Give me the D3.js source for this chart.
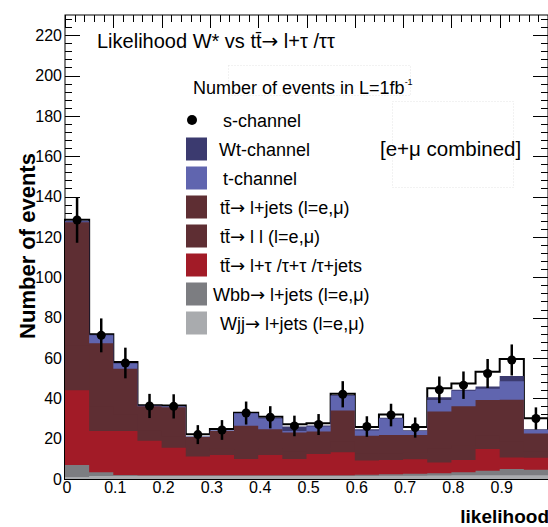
<!DOCTYPE html>
<html>
<head>
<meta charset="utf-8">
<script src="https://cdn.jsdelivr.net/npm/d3@7/dist/d3.min.js"></script>
<style>
  body { margin: 0; background: #fff; }
  svg text { font-family: "Liberation Sans", Arial, Helvetica, sans-serif; fill: #000; }
</style>
</head>
<body>
<div id="chart"></div>
<script>
// bin edges of the likelihood histogram (20 bins)
var binEdges = [0, 0.05, 0.1, 0.15, 0.2, 0.25, 0.3, 0.35, 0.4, 0.45, 0.5,
                0.55, 0.6, 0.65, 0.7, 0.75, 0.8, 0.85, 0.9, 0.95, 1.0];

// stacked backgrounds, bottom first (events per bin)
var wjj    = [1.0, 1.5, 1.5, 1.5, 1.5, 1.5, 1.5, 1.5, 1.5, 1.5, 1.5, 1.5, 1.5, 1.6, 1.6, 1.7, 1.8, 1.8, 1.8, 1.8];
var wbb    = [6.0, 1.8, 0.5, 0.4, 0.4, 0.3, 0.3, 0.3, 0.3, 0.3, 0.4, 0.4, 0.6, 0.8, 1.0, 1.2, 1.5, 2.3, 3.2, 2.8];
var ttTau  = [37.0, 20.5, 21.8, 17.0, 13.6, 9.3, 10.1, 8.1, 10.1, 8.1, 10.5, 11.3, 7.1, 7.0, 7.2, 5.3, 6.1, 10.8, 5.7, 5.9];
var ttLL   = [22.0, 12.0, 8.0, 5.0, 5.5, 2.8, 3.2, 4.5, 3.5, 3.6, 3.0, 5.5, 3.3, 3.4, 3.3, 6.8, 7.2, 6.6, 7.8, 3.3];
var ttLJ   = [61.3, 31.5, 22.8, 12.1, 14.6, 6.9, 8.7, 12.0, 9.2, 9.5, 8.1, 15.2, 9.0, 9.0, 8.7, 18.4, 19.4, 17.7, 20.8, 8.8];
var tChan  = [0.3, 4.0, 2.6, 0.2, 0.2, 0.2, 0.2, 6.1, 5.4, 0.8, 2.5, 7.4, 2.5, 8.2, 2.0, 5.8, 7.7, 5.5, 9.2, 1.7];
var wtChan = [0.4, 0.2, 0.3, 0.2, 0.2, 0.1, 0.1, 0.2, 0.4, 2.2, 0.5, 0.3, 0.6, 0.3, 0.4, 1.3, 0.5, 1.1, 2.5, 0.3];
var sChan  = [0.5, 0.3, 0.5, 0.2, 0.4, 1.1, 0.7, 0.2, 0.5, 1.1, 1.1, 0.6, 1.2, 1.7, 1.6, 4.5, 3.1, 7.4, 8.5, 5.5];

// pseudo data points and their errors
var points = [128.4, 71.2, 57.5, 36.2, 36.0, 22.0, 24.3, 32.7, 30.6, 26.3, 27.0, 42.0, 26.0, 31.7, 25.5, 44.2, 46.5, 52.3, 59.0, 30.0];
var errors = [11.3, 8.4, 7.6, 6.0, 6.0, 4.7, 4.9, 5.7, 5.5, 5.1, 5.2, 6.5, 5.1, 5.6, 5.0, 6.6, 6.8, 7.2, 7.7, 5.5];

var yMajor = [0, 20, 40, 60, 80, 100, 120, 140, 160, 180, 200, 220];
var xMajor = [0, 0.1, 0.2, 0.3, 0.4, 0.5, 0.6, 0.7, 0.8, 0.9];

var keys = ["wjj", "wbb", "ttTau", "ttLL", "ttLJ", "tChan", "wtChan", "sChan"];
var colors = {
  wjj: "#a9abae", wbb: "#7c7d81", ttTau: "#a21b27", ttLL: "#5e2e33",
  ttLJ: "#5e2e33", tChan: "#6065af", wtChan: "#3b3a6f", sChan: "#ffffff"
};

var width = 548, height = 527;
var svg = d3.select("#chart").append("svg")
  .attr("width", width).attr("height", height);

var x = d3.scaleLinear().domain([0, 1]).range([65, 548]);
var y = d3.scaleLinear().domain([0, 230]).range([479, 15]);

// --- frame and ticks (drawn first, histograms cover them like in ROOT)
var frame = svg.append("g");
frame.append("rect")
  .attr("x", x(0)).attr("y", y(230))
  .attr("width", x(1) - x(0)).attr("height", y(0) - y(230))
  .attr("fill", "none").attr("stroke", "#000").attr("stroke-width", 1);

var yMinor = d3.range(0, 230.1, 4);
var xMinor = d3.range(0, 1.0001, 0.02);

frame.selectAll(".ytick").data(yMinor).enter().append("line")
  .attr("x1", x(0)).attr("x2", function(d) { return x(0) + (d % 20 === 0 ? 15 : 7); })
  .attr("y1", function(d) { return Math.round(y(d)) + 0.5; })
  .attr("y2", function(d) { return Math.round(y(d)) + 0.5; })
  .attr("stroke", "#000");
frame.selectAll(".ytickr").data(yMinor).enter().append("line")
  .attr("x1", x(1)).attr("x2", function(d) { return x(1) - (d % 20 === 0 ? 15 : 7); })
  .attr("y1", function(d) { return Math.round(y(d)) + 0.5; })
  .attr("y2", function(d) { return Math.round(y(d)) + 0.5; })
  .attr("stroke", "#000");

function isMajorX(d) { return Math.abs(d * 10 - Math.round(d * 10)) < 1e-6; }
frame.selectAll(".xtickt").data(xMinor).enter().append("line")
  .attr("x1", function(d) { return Math.round(x(d)) + 0.5; })
  .attr("x2", function(d) { return Math.round(x(d)) + 0.5; })
  .attr("y1", y(230)).attr("y2", function(d) { return y(230) + (isMajorX(d) ? 13 : 7); })
  .attr("stroke", "#000");
frame.selectAll(".xtickb").data(xMinor).enter().append("line")
  .attr("x1", function(d) { return Math.round(x(d)) + 0.5; })
  .attr("x2", function(d) { return Math.round(x(d)) + 0.5; })
  .attr("y1", y(0)).attr("y2", function(d) { return y(0) - (isMajorX(d) ? 13 : 7); })
  .attr("stroke", "#000");

// tick labels
svg.selectAll(".ylab").data(yMajor).enter().append("text")
  .attr("x", 62).attr("y", function(d) { return y(d); })
  .attr("dy", "0.36em").attr("text-anchor", "end")
  .style("font-size", "16px")
  .text(function(d) { return d; });

svg.selectAll(".xlab").data(xMajor).enter().append("text")
  .attr("x", function(d) { return x(d) + 2; })
  .attr("y", 493).attr("text-anchor", "middle")
  .style("font-size", "16px")
  .text(function(d) { return d === 0 ? "0" : d.toFixed(1); });

// axis titles
svg.append("text")
  .attr("transform", "translate(35,246) rotate(-90)")
  .attr("text-anchor", "middle")
  .style("font-size", "22px").style("font-weight", "bold")
  .text("Number of events");
svg.append("text")
  .attr("x", 549).attr("y", 523).attr("text-anchor", "end")
  .style("font-size", "19px").style("font-weight", "bold")
  .text("likelihood");

// --- stacked histogram
var rows = binEdges.slice(0, -1).map(function(lo, i) {
  return { lo: lo, wjj: wjj[i], wbb: wbb[i], ttTau: ttTau[i], ttLL: ttLL[i],
           ttLJ: ttLJ[i], tChan: tChan[i], wtChan: wtChan[i], sChan: sChan[i] };
});
var series = d3.stack().keys(keys)(rows);

function stepPoints(layer) {
  var pts = layer.map(function(d, i) { return { x: binEdges[i], top: d[1] }; });
  pts.push({ x: binEdges[binEdges.length - 1], top: layer[layer.length - 1][1] });
  return pts;
}

var area = d3.area()
  .x(function(d) { return x(d.x); })
  .y0(y(0))
  .y1(function(d) { return y(d.top); })
  .curve(d3.curveStepAfter);

// draw from the top component down, each one filled to zero
series.slice().reverse().forEach(function(layer) {
  var p = svg.append("path")
    .datum(stepPoints(layer))
    .attr("d", area)
    .attr("fill", colors[layer.key]);
  if (layer.key === "sChan") {
    p.attr("stroke", "#000").attr("stroke-width", 2);
  }
});

// --- pseudo data with error bars
var pts = svg.append("g");
points.forEach(function(v, i) {
  var cx = x((binEdges[i] + binEdges[i + 1]) / 2);
  pts.append("line")
    .attr("x1", cx).attr("x2", cx)
    .attr("y1", y(v - errors[i])).attr("y2", y(v + errors[i]))
    .attr("stroke", "#000").attr("stroke-width", 2.5);
  pts.append("circle")
    .attr("cx", cx).attr("cy", y(v)).attr("r", 4.5)
    .attr("fill", "#000");
});

// --- faint text box borders
var boxes = [
  { x: 228, y: 65, w: 182, h: 30 },
  { x: 392, y: 101, w: 121, h: 86 }
];
svg.selectAll(".pave").data(boxes).enter().append("rect")
  .attr("x", function(d) { return d.x + 0.5; }).attr("y", function(d) { return d.y + 0.5; })
  .attr("width", function(d) { return d.w; }).attr("height", function(d) { return d.h; })
  .attr("fill", "none").attr("stroke", "#e4e4e4").attr("stroke-dasharray", "1,2");

// text with the arrow taken from DejaVu, which draws a longer arrow
function arrowText(sel, str) {
  var parts = str.split("\u2192");
  parts.forEach(function(p, i) {
    if (i > 0) {
      sel.append("tspan").style("font-family", "'DejaVu Sans'").text("\u2192");
    }
    sel.append("tspan").text(p);
  });
}

// --- title and legend
var title = svg.append("text")
  .attr("x", 97).attr("y", 48)
  .style("font-size", "20px");
arrowText(title, "Likelihood W* vs tt\u0304\u2192 l+\u03c4 /\u03c4\u03c4");

var legTitle = svg.append("text")
  .attr("x", 193).attr("y", 94)
  .style("font-size", "18px")
  .text("Number of events in L=1fb");
legTitle.append("tspan").attr("dy", -9).style("font-size", "9px").text("-1");

svg.append("text")
  .attr("x", 380).attr("y", 156)
  .style("font-size", "20.5px")
  .text("[e+\u03bc combined]");

var legendItems = [
  { label: "s-channel", key: "sChan", tx: 223 },
  { label: "Wt-channel", key: "wtChan", tx: 219 },
  { label: "t-channel", key: "tChan", tx: 223 },
  { label: "tt\u0304\u2192 l+jets (l=e,\u03bc)", key: "ttLJ", tx: 220 },
  { label: "tt\u0304\u2192 l l (l=e,\u03bc)", key: "ttLL", tx: 220 },
  { label: "tt\u0304\u2192 l+\u03c4 /\u03c4+\u03c4 /\u03c4+jets", key: "ttTau", tx: 220 },
  { label: "Wbb\u2192 l+jets (l=e,\u03bc)", key: "wbb", tx: 213 },
  { label: "Wjj\u2192 l+jets (l=e,\u03bc)", key: "wjj", tx: 220 }
];

var leg = svg.append("g");
legendItems.forEach(function(item, i) {
  var cy = 120 + i * 29;
  if (item.key === "sChan") {
    leg.append("circle").attr("cx", 192).attr("cy", cy).attr("r", 5).attr("fill", "#000");
  } else {
    leg.append("rect")
      .attr("x", 186).attr("y", cy - 11.5).attr("width", 21).attr("height", 23)
      .attr("fill", colors[item.key]);
  }
  var t = leg.append("text")
    .attr("x", item.tx).attr("y", cy + 7)
    .style("font-size", "18px");
  arrowText(t, item.label);
});
</script>
</body>
</html>
